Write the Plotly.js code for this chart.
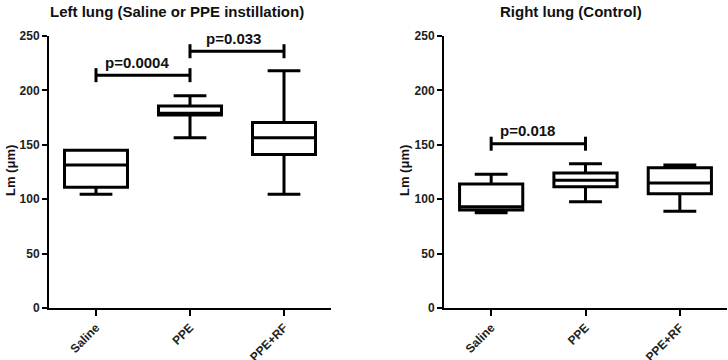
<!DOCTYPE html>
<html>
<head>
<meta charset="utf-8">
<script src="https://cdn.plot.ly/plotly-3.0.1.min.js"></script>
<style>html,body{margin:0;padding:0;background:#fff;}#chart{width:728px;height:360px;}</style>
</head>
<body>
<div id="chart"></div>
<script>
const categories = ['Saline', 'PPE', 'PPE+RF'];

// Left lung (Saline or PPE instillation)
const leftLower  = [104.5, 156.5, 104.5];
const leftQ1     = [111, 177.5, 141];
const leftMedian = [131.5, 179, 156.5];
const leftQ3     = [145, 185.7, 170.5];
const leftUpper  = [145, 195, 218];

// Right lung (Control)
const rightLower  = [87.5, 97.7, 89];
const rightQ1     = [90, 111.5, 105];
const rightMedian = [93, 117.5, 115];
const rightQ3     = [114, 124, 129];
const rightUpper  = [123, 132.5, 131.5];

// significance brackets: [from, to], height, label
const sigLeft1 = {pair: ['Saline', 'PPE'], y: 214, label: 'p=0.0004'};
const sigLeft2 = {pair: ['PPE', 'PPE+RF'], y: 236, label: 'p=0.033'};
const sigRight1 = {pair: ['Saline', 'PPE'], y: 151, label: 'p=0.018'};

const yTicks = [0, 50, 100, 150, 200, 250];

const FONT = 'Liberation Sans, Arial, sans-serif';

function boxTrace(q1, med, q3, lo, hi, xa, ya) {
  return {
    type: 'box', x: categories, q1: q1, median: med, q3: q3,
    lowerfence: lo, upperfence: hi,
    xaxis: xa, yaxis: ya, boxpoints: false,
    width: 0.67, whiskerwidth: 0.52,
    fillcolor: '#ffffff',
    line: {color: '#000000', width: 3},
    showlegend: false, hoverinfo: 'skip'
  };
}
function sigTrace(s, xa, ya) {
  return {
    type: 'scatter', mode: 'lines+markers',
    x: s.pair, y: [s.y, s.y], xaxis: xa, yaxis: ya,
    line: {color: '#000000', width: 3},
    marker: {symbol: 'line-ns', size: 10, line: {color: '#000000', width: 3}},
    showlegend: false, hoverinfo: 'skip', cliponaxis: false
  };
}
function sigAnn(s, xpos, xa, ya) {
  return {
    x: xpos, y: s.y, xref: xa, yref: ya, text: s.label, showarrow: false,
    xanchor: 'center', yanchor: 'middle', yshift: 13,
    font: {family: FONT, size: 15, color: '#111', weight: 'bold'}
  };
}

const data = [
  boxTrace(leftQ1, leftMedian, leftQ3, leftLower, leftUpper, 'x', 'y'),
  boxTrace(rightQ1, rightMedian, rightQ3, rightLower, rightUpper, 'x2', 'y2'),
  sigTrace(sigLeft1, 'x', 'y'),
  sigTrace(sigLeft2, 'x', 'y'),
  sigTrace(sigRight1, 'x2', 'y2')
];

function xAxis(domain, anchor) {
  return {
    domain: domain, anchor: anchor, type: 'category',
    categoryorder: 'array', categoryarray: categories,
    range: [-0.5, 2.5], showgrid: false, zeroline: false,
    showline: true, linecolor: '#000', linewidth: 2,
    ticks: 'outside', ticklen: 6, tickwidth: 2, tickcolor: '#000',
    tickangle: -45, tickfont: {family: FONT, size: 12, color: '#222', weight: 'bold'},
    fixedrange: true
  };
}
function yAxis(domain, anchor) {
  return {
    domain: domain, anchor: anchor, range: [0, 250],
    tickmode: 'array', tickvals: yTicks, ticktext: yTicks.map(String),
    showgrid: false, zeroline: false,
    showline: true, linecolor: '#000', linewidth: 2,
    ticks: 'outside', ticklen: 5, tickwidth: 2, tickcolor: '#000',
    tickfont: {family: FONT, size: 12, color: '#222', weight: 'bold'},
    fixedrange: true
  };
}

const layout = {
  width: 728, height: 360,
  margin: {l: 0, r: 0, t: 0, b: 0},
  paper_bgcolor: '#fff', plot_bgcolor: '#fff',
  xaxis: xAxis([49/728, 331/728], 'y'),
  yaxis: yAxis([52/360, 324/360], 'x'),
  xaxis2: xAxis([444/728, 727/728], 'y2'),
  yaxis2: yAxis([52/360, 324/360], 'x2'),
  annotations: [
    {x: 177/728, y: 1 - 11/360, xref: 'paper', yref: 'paper', xanchor: 'center', yanchor: 'middle',
     text: 'Left lung (Saline or PPE instillation)', showarrow: false,
     font: {family: FONT, size: 15, color: '#111', weight: 'bold'}},
    {x: 571/728, y: 1 - 11/360, xref: 'paper', yref: 'paper', xanchor: 'center', yanchor: 'middle',
     text: 'Right lung (Control)', showarrow: false,
     font: {family: FONT, size: 15, color: '#111', weight: 'bold'}},
    {x: 10/728, y: 1 - 171/360, xref: 'paper', yref: 'paper', xanchor: 'center', yanchor: 'middle',
     text: 'Lm (μm)', textangle: -90, showarrow: false,
     font: {family: FONT, size: 13, color: '#111', weight: 'bold'}},
    {x: 404/728, y: 1 - 171/360, xref: 'paper', yref: 'paper', xanchor: 'center', yanchor: 'middle',
     text: 'Lm (μm)', textangle: -90, showarrow: false,
     font: {family: FONT, size: 13, color: '#111', weight: 'bold'}},
    sigAnn(sigLeft1, 0.44, 'x', 'y'),
    sigAnn(sigLeft2, 1.46, 'x', 'y'),
    sigAnn(sigRight1, 0.38, 'x2', 'y2')
  ]
};

Plotly.newPlot('chart', data, layout, {displayModeBar: false, staticPlot: true});
</script>
</body>
</html>
